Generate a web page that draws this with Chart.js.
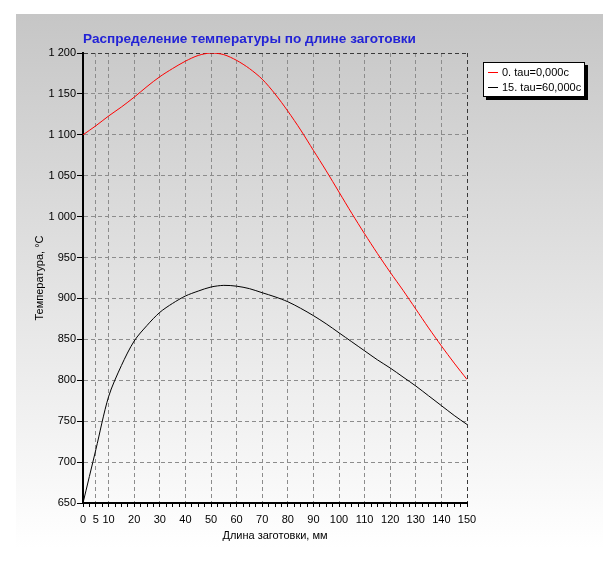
<!DOCTYPE html>
<html><head><meta charset="utf-8">
<script src="https://cdn.jsdelivr.net/npm/chart.js@4"></script>
<style>html,body{margin:0;padding:0;background:#fff}canvas{display:block}</style>
</head><body>
<canvas id="c" width="603" height="561"></canvas>
<script>
const xValues = [0,5,10,15,20,25,30,35,40,45,50,55,60,65,70,75,80,85,90,95,100,105,110,115,120,125,130,135,140,145,150];
const redSeries = [1100,1111,1123,1134,1146,1159,1171,1181,1190,1197,1200,1198,1191,1181,1168,1150,1129,1106,1081,1056,1030,1004,979,955,932,910,887,864,842,821,801];
const blackSeries = [650,715,780,818,848,867,883,894,903,909,914,916,915,912,907,902,896,888,879,869,858,847,836,825,815,804,793,781,769,757,746];
const seriesNames = ['0. tau=0,000c', '15. tau=60,000c'];
const seriesColors = ['#ff0000', '#000000'];
const yTickValues = [650,700,750,800,850,900,950,1000,1050,1100,1150,1200];
const xLabelValues = [0,5,10,20,30,40,50,60,70,80,90,100,110,120,130,140,150];
const xMinorStep = 2.5;
const titleText = 'Распределение температуры по длине заготовки';
const xTitle = 'Длина заготовки, мм';
const yTitle = 'Температура, °C';

const FONT = '"Liberation Sans", Arial, sans-serif';

const bgPlugin = {
  id: 'bg',
  beforeDraw(chart) {
    const ctx = chart.ctx;
    ctx.save();
    ctx.fillStyle = '#ffffff';
    ctx.fillRect(0, 0, chart.width, chart.height);
    const g = ctx.createLinearGradient(0, 14, 0, 548);
    g.addColorStop(0, '#c6c6c6');
    g.addColorStop(1, '#ffffff');
    ctx.fillStyle = g;
    ctx.fillRect(16, 14, chart.width - 16, chart.height - 14);
    ctx.restore();
  }
};

const decoPlugin = {
  id: 'deco',
  afterDraw(chart) {
    const ctx = chart.ctx;
    const area = chart.chartArea;
    ctx.save();
    // title
    ctx.font = 'bold 13px ' + FONT;
    const w = ctx.measureText(titleText).width;
    const size = 13 * 333 / w;
    ctx.font = 'bold ' + size.toFixed(2) + 'px ' + FONT;
    ctx.fillStyle = '#2323d6';
    ctx.textBaseline = 'middle';
    ctx.textAlign = 'left';
    ctx.fillText(titleText, area.left, 39);
    // legend
    const bx = 483, by = 62, bw = 102, bh = 35;
    ctx.fillStyle = '#000';
    ctx.fillRect(bx + 3, by + 3, bw, bh);
    ctx.fillStyle = '#fff';
    ctx.fillRect(bx, by, bw, bh);
    ctx.strokeStyle = '#000';
    ctx.lineWidth = 1;
    ctx.strokeRect(bx + 0.5, by + 0.5, bw - 1, bh - 1);
    ctx.font = '11px ' + FONT;
    chart.data.datasets.forEach((ds, i) => {
      const yy = 72 + i * 15;
      ctx.strokeStyle = ds.borderColor;
      ctx.beginPath();
      ctx.moveTo(488, yy + 0.5);
      ctx.lineTo(498, yy + 0.5);
      ctx.stroke();
      ctx.fillStyle = '#000';
      ctx.fillText(ds.label, 502, yy + 0.5);
    });
    ctx.restore();
  }
};

function fmtY(v) {
  if (v >= 1000) return Math.floor(v / 1000) + ' ' + String(v % 1000).padStart(3, '0');
  return String(v);
}

new Chart(document.getElementById('c'), {
  type: 'line',
  data: {
    datasets: [
      { label: seriesNames[0], data: xValues.map((x, i) => ({ x, y: redSeries[i] })), borderColor: seriesColors[0], borderWidth: 1, pointRadius: 0, tension: 0.3, fill: false },
      { label: seriesNames[1], data: xValues.map((x, i) => ({ x, y: blackSeries[i] })), borderColor: seriesColors[1], borderWidth: 1, pointRadius: 0, tension: 0.3, fill: false }
    ]
  },
  options: {
    responsive: false,
    animation: false,
    layout: { padding: { top: 53, right: 136, left: 0, bottom: 0 } },
    plugins: { legend: { display: false }, title: { display: false }, tooltip: { enabled: false } },
    scales: {
      x: {
        type: 'linear', min: 0, max: 150,
        afterFit(s) { s.height = 58; },
        afterBuildTicks(s) {
          const t = [];
          for (let v = 0; v <= 150 + 1e-9; v += xMinorStep) t.push({ value: v });
          s.ticks = t;
        },
        ticks: {
          autoSkip: false, maxRotation: 0, padding: 6, color: '#000',
          font: { family: FONT, size: 11 },
          callback: v => xLabelValues.includes(v) ? String(v) : ''
        },
        grid: {
          color: c => (c.tick && xLabelValues.includes(c.tick.value)) ? (c.tick.value === 150 ? '#3a3a3a' : '#8c8c8c') : 'rgba(0,0,0,0)',
          tickColor: '#000', tickLength: 4, tickBorderDash: [], tickWidth: 1
        },
        border: { color: '#000', width: 2, dash: [4, 3] },
        title: { display: true, text: xTitle, color: '#000', font: { family: FONT, size: 11 }, padding: { top: 0, bottom: 18 } }
      },
      y: {
        min: 650, max: 1200,
        afterFit(s) { s.width = 83; },
        afterBuildTicks(s) { s.ticks = yTickValues.map(v => ({ value: v })); },
        ticks: { padding: 1, color: '#000', font: { family: FONT, size: 11 }, callback: v => fmtY(v) },
        grid: {
          color: c => (c.tick && c.tick.value === 1200) ? '#3a3a3a' : '#8c8c8c',
          tickColor: '#000', tickLength: 6, tickBorderDash: [], tickWidth: 1
        },
        border: { color: '#000', width: 2, dash: [4, 3] },
        title: { display: true, text: yTitle, color: '#000', font: { family: FONT, size: 11 }, padding: { top: 33, bottom: 0 } }
      }
    }
  },
  plugins: [bgPlugin, decoPlugin]
});
</script>
</body></html>
